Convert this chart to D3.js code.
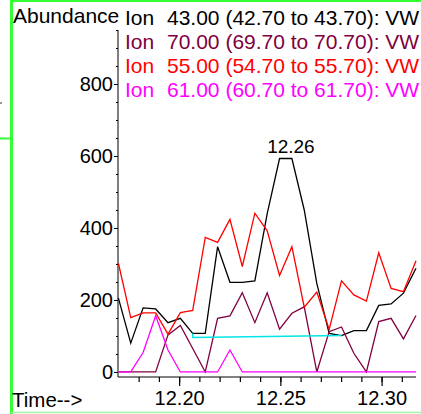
<!DOCTYPE html>
<html>
<head>
<meta charset="utf-8">
<script src="https://cdn.jsdelivr.net/npm/d3@7"></script>
<style>
  body { margin: 0; background: #fff; }
  svg { display: block; font-family: "Liberation Sans", Arial, sans-serif; }
  .axis path, .axis line { stroke: #000; }
  .axis text { font-size: 20px; fill: #000; font-family: "Liberation Sans", Arial, sans-serif; }
</style>
</head>
<body>
<div id="chart"></div>
<script>
// retention times (min) of the scans
var times = [12.1700, 12.1761, 12.1822, 12.1884, 12.1945, 12.2006, 12.2067, 12.2129,
             12.2190, 12.2251, 12.2312, 12.2374, 12.2435, 12.2496, 12.2557, 12.2618,
             12.2680, 12.2741, 12.2802, 12.2863, 12.2925, 12.2986, 12.3047, 12.3108, 12.3170];

// abundance per ion
var ion43 = [205, 80, 178, 175, 137, 149, 107, 107, 348, 249, 249, 253, 440, 593, 593, 450,
             246, 107, 101, 115, 115, 185, 189, 219, 288];
var ion70 = [0, 0, 0, 0, 103, 129, 65, 0, 149, 156, 220, 137, 220, 119, 163, 181,
             0, 112, 125, 52, 0, 140, 149, 92, 157];
var ion55 = [302, 151, 164, 164, 105, 165, 171, 374, 360, 424, 293, 441, 392, 268, 348, 180,
             222, 118, 253, 214, 197, 331, 232, 223, 309];
var ion61 = [0, 0, 54, 156, 61, 0, 0, 0, 0, 61, 0, 0, 0, 0, 0, 0,
             0, 0, 0, 0, 0, 0, 0, 0, 0];

var legendLabels = ["43.00 (42.70 to 43.70): VW", "70.00 (69.70 to 70.70): VW",
                    "55.00 (54.70 to 55.70): VW", "61.00 (60.70 to 61.70): VW"];
var colors = ["#000000", "#800040", "#ff0000", "#ff00ff"];

// integration baseline (scan index, abundance)
var baseIdx = [6, 6, 18];
var baseVal = [107, 96, 101];

var majorTicks = [12.20, 12.25, 12.30];
var minorTicks = [12.18, 12.19, 12.20, 12.21, 12.22, 12.23, 12.24, 12.25, 12.26, 12.27, 12.28, 12.29, 12.30, 12.31];
var yMajor = [0, 200, 400, 600, 800];
var yMinor = [0, 50, 100, 150, 200, 250, 300, 350, 400, 450, 500, 550, 600, 650, 700, 750, 800, 850, 900, 950];

var peakIndex = 14;
var peakLabel = "12.26";

var W = 421, H = 414;
var svg = d3.select("#chart").append("svg").attr("width", W).attr("height", H);

// frame pieces
svg.append("line").attr("x1", 11).attr("x2", W).attr("y1", 1).attr("y2", 1)
   .attr("stroke", "#33ff33").attr("stroke-width", 2);
svg.append("line").attr("x1", 11.5).attr("x2", 11.5).attr("y1", 0).attr("y2", H)
   .attr("stroke", "#33ff33").attr("stroke-width", 3);
svg.append("line").attr("x1", 0).attr("x2", 11).attr("y1", 138.5).attr("y2", 138.5)
   .attr("stroke", "#33ff33").attr("stroke-width", 2);
svg.append("line").attr("x1", 11).attr("x2", W).attr("y1", 412.5).attr("y2", 412.5)
   .attr("stroke", "#a8f0a8").attr("stroke-width", 1.5);
svg.append("rect").attr("x", 0).attr("y", 102).attr("width", 2).attr("height", 2).attr("fill", "#999");

var x = d3.scaleLinear().domain([12.1698, 12.3170]).range([118, 416]);
var y = d3.scaleLinear().domain([-14, 950]).range([377, 30]);

// y axis
var yAxis = svg.append("g").attr("class", "axis").attr("transform", "translate(118,0)");
yAxis.call(d3.axisLeft(y).tickValues(yMinor).tickSize(2).tickFormat(""));
yAxis.append("g").call(d3.axisLeft(y).tickValues(yMajor).tickSize(4).tickPadding(1).tickFormat(d3.format("d")))
     .call(g => g.select(".domain").remove());
yAxis.select(".domain").attr("d", "M0," + y(950) + "V" + y(-14));
yAxis.selectAll("text").style("font-size", "20px");

// x axis
var xAxis = svg.append("g").attr("class", "axis").attr("transform", "translate(0,377)");
xAxis.call(d3.axisBottom(x).tickValues(minorTicks).tickSize(5).tickFormat(""));
xAxis.select(".domain").attr("d", "M118,0H416");
xAxis.append("g").call(d3.axisBottom(x).tickValues(majorTicks).tickSize(9).tickPadding(5).tickFormat(d3.format(".2f")))
     .call(g => g.select(".domain").remove());
xAxis.selectAll("line").attr("stroke-width", 1.2);

svg.append("text").attr("x", 12).attr("y", 407).attr("font-size", 20.5).text("Time-->");
svg.append("text").attr("x", 13).attr("y", 23).attr("font-size", 21).text("Abundance");

// traces
var line = d3.line().x((d, i) => x(times[i])).y(d => y(d));
[ion43, ion70, ion55, ion61].forEach((s, k) => {
  svg.append("path").datum(s).attr("d", line)
     .attr("fill", "none").attr("stroke", colors[k]).attr("stroke-width", 1.3)
     .attr("stroke-linejoin", "miter");
});

// baseline
var baseLine = d3.line().x(d => x(times[d[0]])).y(d => y(d[1]));
svg.append("path").datum(baseIdx.map((b, i) => [b, baseVal[i]])).attr("d", baseLine)
   .attr("fill", "none").attr("stroke", "#00e6e6").attr("stroke-width", 1.5);

// peak label
svg.append("text").attr("x", x(times[peakIndex]) - 1).attr("y", y(ion43[peakIndex]) - 6)
   .attr("text-anchor", "middle").attr("font-size", 19).text(peakLabel);

// legend
legendLabels.forEach((t, k) => {
  var g = svg.append("text").attr("y", 25 + k * 24).attr("font-size", 21).attr("fill", colors[k]);
  g.append("tspan").attr("x", 125).text("Ion");
  g.append("tspan").attr("x", 167).text(t);
});
</script>
</body>
</html>
